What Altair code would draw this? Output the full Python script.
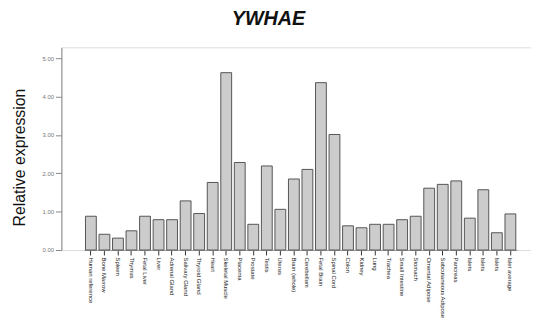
import altair as alt
import pandas as pd

tissues = ["Human reference", "Bone Marrow", "Spleen", "Thymus", "Fetal Liver", "Liver",
           "Adrenal Gland", "Salivary Gland", "Thyroid Gland", "Heart", "Skeletal Muscle",
           "Placenta", "Prostate", "Testis", "Uterus", "Brain (whole)", "Cerebellum",
           "Fetal Brain", "Spinal Cord", "Colon", "Kidney", "Lung", "Trachea",
           "Small Intestine", "Stomach", "Omental Adipose", "Subcutaneous Adipose",
           "Pancreas", "Islets", "Islets", "Islets", "Islet average"]
values = [0.88, 0.41, 0.31, 0.50, 0.88, 0.79, 0.79, 1.28, 0.95, 1.76, 4.62, 2.28, 0.67,
          2.19, 1.06, 1.85, 2.10, 4.36, 3.01, 0.63, 0.58, 0.67, 0.67, 0.79, 0.88, 1.61,
          1.71, 1.80, 0.83, 1.57, 0.45, 0.94]
y_ticks = [0, 1, 2, 3, 4, 5]

df = pd.DataFrame({"idx": list(range(len(tissues))), "tissue": tissues, "value": values})
label_array = "[" + ",".join('"' + t + '"' for t in tissues) + "]"

chart = alt.Chart(df).mark_bar(
    fill="#cccccc", stroke="#555555", strokeWidth=1
).encode(
    x=alt.X("idx:O", title=None,
            scale=alt.Scale(paddingInner=0.2, paddingOuter=0.1, range=[23, 461]),
            axis=alt.Axis(labelExpr=label_array + "[datum.value]", labelAngle=90,
                          labelAlign="left", labelBaseline="middle", labelFontSize=6,
                          labelColor="#222222", labelFont="Liberation Sans",
                          tickSize=5, tickColor="#333333", domainColor="#999999",
                          labelPadding=2, labelLimit=200)),
    y=alt.Y("value:Q", title="Relative expression",
            scale=alt.Scale(domain=[0, 5.28], nice=False),
            axis=alt.Axis(values=y_ticks, format=".2f", labelFontSize=6,
                          labelColor="#777777", labelFont="Liberation Sans",
                          tickSize=6, tickColor="#888888", domainColor="#888888",
                          grid=False, titleFont="Liberation Sans", titleFontSize=16,
                          titleFontWeight="normal", titleColor="#111111",
                          titleX=-42, titleY=111, titleAlign="center",
                          titleBaseline="middle", titleAngle=-90)),
).properties(
    width=475, height=205,
    title=alt.TitleParams("YWHAE", font="Liberation Sans", fontSize=20,
                          fontStyle="italic", fontWeight="bold", color="#111111",
                          anchor="middle", dx=-28, offset=19),
    autosize=alt.AutoSizeParams(type="none"),
    padding={"left": 54, "top": 38, "right": 0, "bottom": 70},
).configure_view(
    fill="#f0f0f0", stroke="#aaaaaa", strokeWidth=1
).configure(background="white")

chart.save("out.html", embed_options={"renderer": "svg", "actions": False})
